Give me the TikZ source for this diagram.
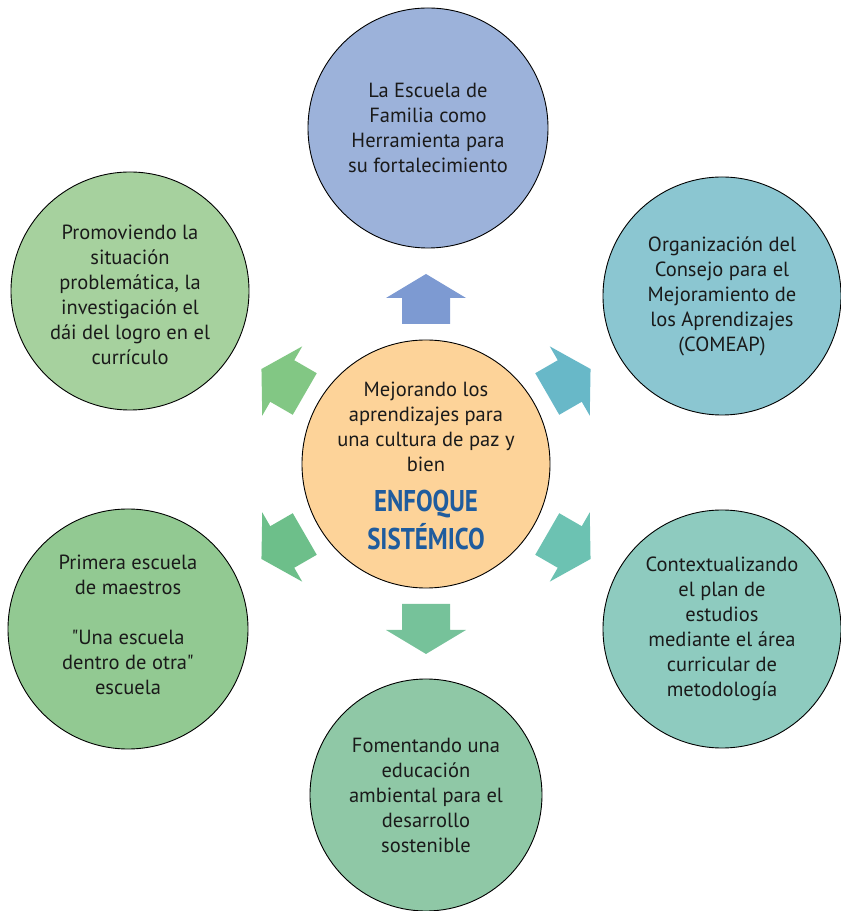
\documentclass[tikz,border=0pt]{standalone}
\usepackage{fontspec}
\setmainfont{PT Sans}[Ligatures=TeXOff]
\usetikzlibrary{calc}
\definecolor{txt}{HTML}{1A1A1A}
\definecolor{ctop}{HTML}{9CB2DA}
\definecolor{ctr}{HTML}{8BC6D1}
\definecolor{cbr}{HTML}{8ECBBF}
\definecolor{cbot}{HTML}{8FC8A6}
\definecolor{cbl}{HTML}{92C992}
\definecolor{ctl}{HTML}{A6D19E}
\definecolor{ccen}{HTML}{FDD399}
\definecolor{enfoque}{HTML}{1F5C9E}
\definecolor{atop}{HTML}{7D9AD2}
\definecolor{atr}{HTML}{68B8C8}
\definecolor{abr}{HTML}{6CC2B2}
\definecolor{abot}{HTML}{76C29A}
\definecolor{abl}{HTML}{6DBF8A}
\definecolor{atl}{HTML}{82C784}
\tikzset{
  bubble/.style={circle, draw=black, line width=0.9pt, inner sep=0pt},
  bubtext/.style={align=center, text=txt, font=\fontsize{20.5}{25}\selectfont, inner sep=0pt},
  cline/.style={anchor=base, text=txt, font=\fontsize{20.5}{25}\selectfont, inner sep=0pt},
  bline/.style={anchor=base, text=enfoque, inner sep=0pt, font=\fontsize{30}{38}\selectfont\bfseries},
}
\begin{document}
\begin{tikzpicture}[x=1pt,y=1pt]
\useasboundingbox (0,0) rectangle (841,911);
% arrows (behind)
\coordinate (cc) at (426,447);
\begin{scope}
\clip (258,0) rectangle (598,911);
\foreach \a/\col in {90/atop,30/atr,-30/abr,-90/abot,-150/abl,150/atl}{
  \fill[\col, shift={(cc)}, rotate=\a]
    (140,24) -- (166,24) -- (166,40) -- (190,0) -- (166,-40) -- (166,-24) -- (140,-24) -- cycle;
}
\end{scope}
% outer circles
\node[bubble, fill=ctop, minimum size=240pt] (top) at (428,783) {};
\node[bubble, fill=ctr, minimum size=238pt] (tr) at (722,615) {};
\node[bubble, fill=cbr, minimum size=238pt] (br) at (722,282) {};
\node[bubble, fill=cbot, minimum size=232pt] (bot) at (426,116) {};
\node[bubble, fill=cbl, minimum size=240pt] (bl) at (128,282) {};
\node[bubble, fill=ctl, minimum size=238pt] (tl) at (130,620) {};
\node[bubble, fill=ccen, minimum size=248pt] (cen) at (cc) {};
% texts
\node[bubtext] (topt) at (top) {La Escuela de\\Familia como\\Herramienta para\\su fortalecimiento};
\node[bubtext] (trt) at (tr) {Organización del\\Consejo para el\\Mejoramiento de\\los Aprendizajes\\(COMEAP)};
\node[bubtext] (brt) at (br) {Contextualizando\\el plan de\\estudios\\mediante el área\\curricular de\\metodología};
\node[bubtext] (bott) at (bot) {Fomentando una\\educación\\ambiental para el\\desarrollo\\sostenible};
\node[bubtext] (blt) at ([yshift=4pt]bl.center) {Primera escuela\\de maestros\\[25pt]"Una escuela\\dentro de otra"\\escuela};
\node[bubtext] (tlt) at ([yshift=-4pt]tl.center) {Promoviendo la\\situación\\problemática, la\\investigación el\\dái del logro en el\\currículo};
\node[cline] (c1) at (426,514) {Mejorando los};
\node[cline] (c2) at (426,489) {aprendizajes para};
\node[cline] (c3) at (426,464) {una cultura de paz y};
\node[cline] (c4) at (426,439) {bien};
\node[bline] (e1) at (426,399) {\scalebox{0.83}[1]{ENFOQUE}};
\node[bline] (e2) at (426,361) {\scalebox{0.83}[1]{SISTÉMICO}};
\end{tikzpicture}
\end{document}
